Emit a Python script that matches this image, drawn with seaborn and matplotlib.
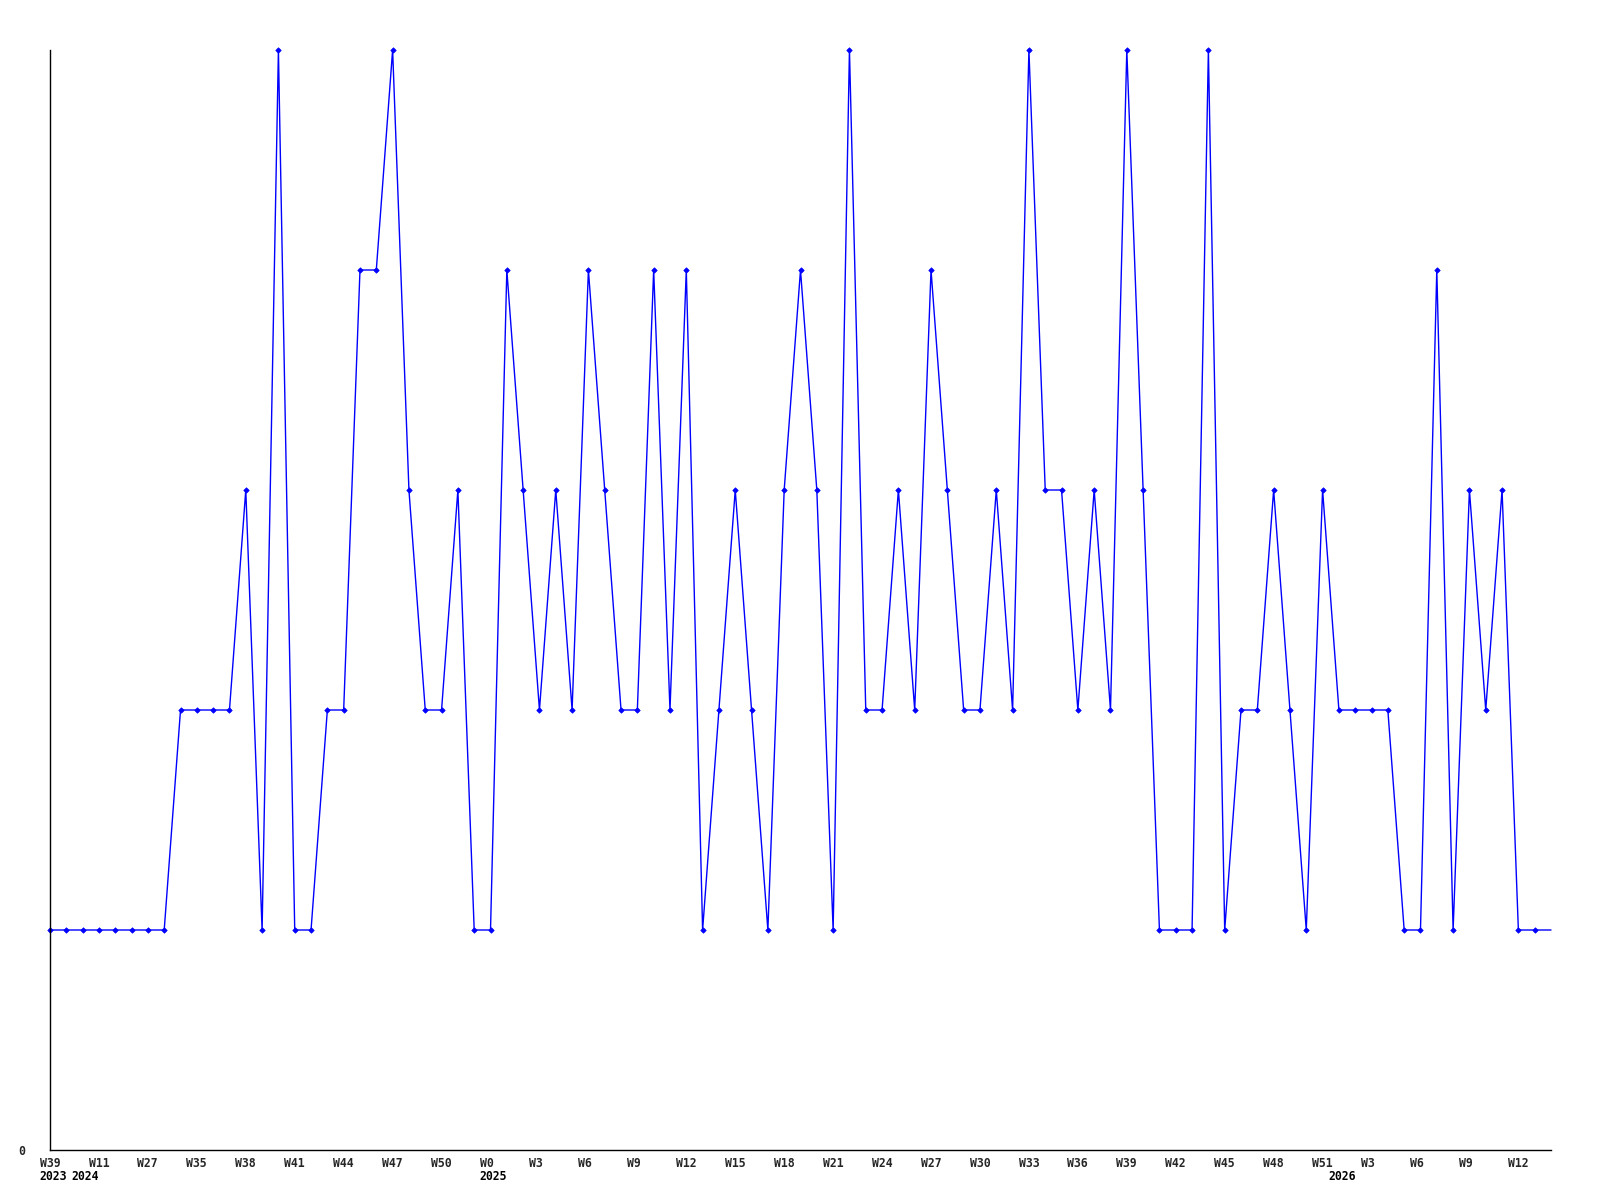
import matplotlib
matplotlib.use("Agg")
import matplotlib.pyplot as plt
import matplotlib.transforms as mtransforms
import seaborn as sns
import numpy as np

# ---- data ----
values = [1, 1, 1, 1, 1, 1, 1, 1, 2, 2,
          2, 2, 3, 1, 5, 1, 1, 2, 2, 4,
          4, 5, 3, 2, 2, 3, 1, 1, 4, 3,
          2, 3, 2, 4, 3, 2, 2, 4, 2, 4,
          1, 2, 3, 2, 1, 3, 4, 3, 1, 5,
          2, 2, 3, 2, 4, 3, 2, 2, 3, 2,
          5, 3, 3, 2, 3, 2, 5, 3, 1, 1,
          1, 5, 1, 2, 2, 3, 2, 1, 3, 2,
          2, 2, 2, 1, 1, 4, 1, 3, 2, 3,
          1, 1, 1]
week_labels = ["W39", "W11", "W27", "W35", "W38", "W41", "W44", "W47", "W50", "W0",
               "W3", "W6", "W9", "W12", "W15", "W18", "W21", "W24", "W27", "W30",
               "W33", "W36", "W39", "W42", "W45", "W48", "W51", "W3", "W6", "W9", "W12"]
year_labels = ["2023", "2024", "2025", "2026"]
y_tick_labels = ["0"]

# ---- layout constants ----
label_step = 3
year_x = [-0.64, 1.30, 26.34, 78.33]  # left edges in x-data units

sns.set_style("white")
plt.rcParams['font.family'] = ['DejaVu Sans Mono', 'DejaVu Sans']

fig = plt.figure(figsize=(16, 12), dpi=100)
ax = fig.add_axes([50 / 1600, 1 - 1150 / 1200, (1551 - 50) / 1600, 1100 / 1200])

idx = np.arange(len(values))
sns.lineplot(x=idx, y=values, ax=ax, color="#0000ff", linewidth=1.0,
             marker="D", markersize=2.8, markeredgewidth=0.5, markeredgecolor="#0000ff",
             markevery=list(range(len(values) - 1)), clip_on=False)

ax.set_xlim(0, len(values) - 1)
ax.set_ylim(0, 5)

ax.set_xticks(np.arange(0, len(week_labels) * label_step, label_step))
ax.set_xticklabels(week_labels, fontsize=8.3, fontweight="bold")
ax.set_yticks([0])
ax.set_yticklabels(y_tick_labels, fontsize=8.3, fontweight="bold")
ax.tick_params(axis="x", length=0, pad=5)
ax.tick_params(axis="y", length=0, pad=18)
ax.set_xlabel("")
ax.set_ylabel("")

shift = mtransforms.ScaledTranslation(-10.4 / 100, 0, fig.dpi_scale_trans)
for lbl in ax.get_xticklabels():
    lbl.set_horizontalalignment("left")
    lbl.set_transform(lbl.get_transform() + shift)

for s in ["top", "right"]:
    ax.spines[s].set_visible(False)
for s in ["left", "bottom"]:
    ax.spines[s].set_color("black")
    ax.spines[s].set_linewidth(1.0)

trans = mtransforms.blended_transform_factory(ax.transData, fig.transFigure)
for lab, xp in zip(year_labels, year_x):
    ax.text(xp, 1 - 1177 / 1200, lab, transform=trans, ha="left", va="center",
            fontsize=8.3, fontweight="bold", color="black")

fig.savefig("out.png", dpi=100)
